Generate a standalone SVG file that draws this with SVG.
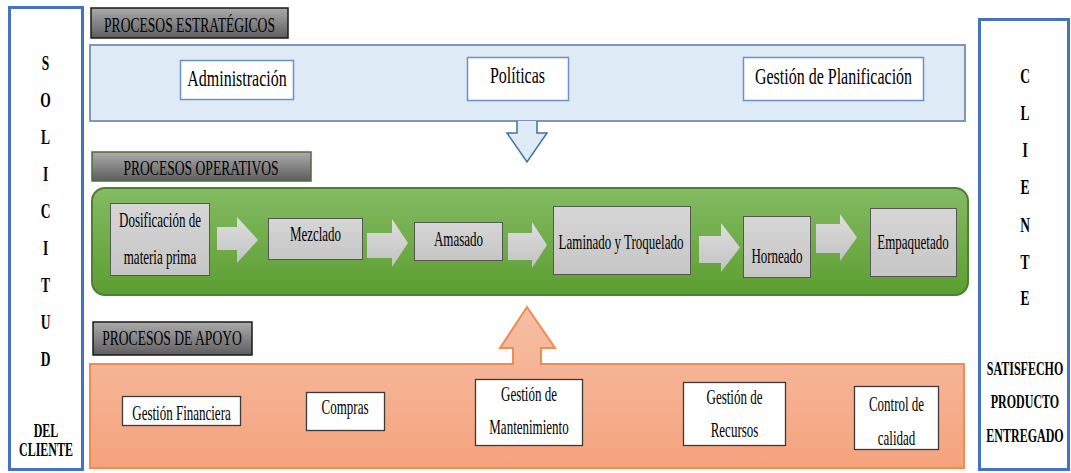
<svg xmlns="http://www.w3.org/2000/svg" width="1071" height="473" viewBox="0 0 1071 473">
  <defs>
    <linearGradient id="hdrGrad" x1="0" y1="0" x2="0" y2="1">
      <stop offset="0" stop-color="#ABABAB"/>
      <stop offset="1" stop-color="#5E5E5E"/>
    </linearGradient>
    <linearGradient id="greenGrad" x1="0" y1="0" x2="0" y2="1">
      <stop offset="0" stop-color="#84BB63"/>
      <stop offset="1" stop-color="#5C9E30"/>
    </linearGradient>
    <linearGradient id="orangeGrad" x1="0" y1="0" x2="0" y2="1">
      <stop offset="0" stop-color="#F5BFA5"/>
      <stop offset="1" stop-color="#F5A37D"/>
    </linearGradient>
    <linearGradient id="boxGrad" x1="0" y1="0" x2="0" y2="1">
      <stop offset="0" stop-color="#D6D6D6"/>
      <stop offset="1" stop-color="#C6C6C6"/>
    </linearGradient>
    <linearGradient id="arrowGrad" x1="0" y1="0" x2="0" y2="1">
      <stop offset="0" stop-color="#DEDEDE"/>
      <stop offset="1" stop-color="#C2C2C2"/>
    </linearGradient>
  </defs>
  <style>
    text { font-family: "Liberation Serif", "Times New Roman", serif; fill: #000; text-anchor: middle; }
    .side { fill: #FFFFFF; stroke: #4472C4; stroke-width: 3; }
    .hdr { fill: url(#hdrGrad); stroke: #1A1A1A; stroke-width: 1.5; }
    .hdr-g { fill: url(#hdrGrad); stroke: #4E6E37; stroke-width: 1.5; }
    .strat { fill: #FFFFFF; stroke: #6D8FD0; stroke-width: 1.5; }
    .proc { fill: url(#boxGrad); stroke: #555555; stroke-width: 1; }
    .flow { fill: url(#arrowGrad); stroke: none; }
    .sup { fill: #FFFFFF; stroke: #3A3A3A; stroke-width: 1.3; }
    .big { font-size: 16px; }
    .h { font-size: 13.6px; }
    .s { font-size: 13px; }
    .v { font-size: 13.5px; font-weight: bold; }
    .b { font-size: 12px; font-weight: bold; }
  </style>

  <!-- client request column -->
  <g id="solicitud">
    <rect class="side" x="9.5" y="7.5" width="73" height="462"/>
    <text class="v" transform="matrix(1 0 0 1.5 45.5 69.5)">S</text>
    <text class="v" transform="matrix(1 0 0 1.5 45.5 106.6)">O</text>
    <text class="v" transform="matrix(1 0 0 1.5 45.5 143.7)">L</text>
    <text class="v" transform="matrix(1 0 0 1.5 45.5 180.8)">I</text>
    <text class="v" transform="matrix(1 0 0 1.5 45.5 217.9)">C</text>
    <text class="v" transform="matrix(1 0 0 1.5 45.5 255)">I</text>
    <text class="v" transform="matrix(1 0 0 1.5 45.5 292.1)">T</text>
    <text class="v" transform="matrix(1 0 0 1.5 45.5 329.2)">U</text>
    <text class="v" transform="matrix(1 0 0 1.5 45.5 366.3)">D</text>
    <text class="b" transform="matrix(1 0 0 1.55 46 437)">DEL</text>
    <text class="b" transform="matrix(1 0 0 1.55 46 456)">CLIENTE</text>
  </g>

  <!-- satisfied client column -->
  <g id="cliente">
    <rect class="side" x="979.5" y="19.5" width="89" height="450"/>
    <text class="v" transform="matrix(1 0 0 1.5 1025 82.5)">C</text>
    <text class="v" transform="matrix(1 0 0 1.5 1025 119.8)">L</text>
    <text class="v" transform="matrix(1 0 0 1.5 1025 157.1)">I</text>
    <text class="v" transform="matrix(1 0 0 1.5 1025 194.4)">E</text>
    <text class="v" transform="matrix(1 0 0 1.5 1025 231.7)">N</text>
    <text class="v" transform="matrix(1 0 0 1.5 1025 269)">T</text>
    <text class="v" transform="matrix(1 0 0 1.5 1025 304.5)">E</text>
    <text class="b" transform="matrix(1 0 0 1.55 1025 375)">SATISFECHO</text>
    <text class="b" transform="matrix(1 0 0 1.55 1025 408)">PRODUCTO</text>
    <text class="b" transform="matrix(1 0 0 1.55 1025 441.5)">ENTREGADO</text>
  </g>

  <!-- strategic processes -->
  <g id="estrategicos">
    <rect x="90" y="45" width="875" height="76" fill="#DEEAF6" stroke="#7D97B7" stroke-width="2"/>
    <rect class="hdr" x="91" y="8" width="197" height="30"/>
    <text class="h" transform="matrix(1 0 0 1.55 189.5 31.5)">PROCESOS ESTRATÉGICOS</text>
  </g>
  <g id="administracion">
    <rect class="strat" x="180.5" y="60.5" width="113" height="39"/>
    <text class="big" transform="matrix(1 0 0 1.45 237 86)">Administración</text>
  </g>
  <g id="politicas">
    <rect class="strat" x="467.5" y="57.5" width="101" height="43"/>
    <text class="big" transform="matrix(1 0 0 1.45 517.5 83)">Políticas</text>
  </g>
  <g id="planificacion">
    <rect class="strat" x="743.5" y="57.5" width="180" height="43"/>
    <text class="big" transform="matrix(1 0 0 1.45 833.5 84)">Gestión de Planificación</text>
  </g>

  <!-- operative processes -->
  <g id="operativos">
    <rect x="92" y="188" width="876" height="107" rx="13" fill="url(#greenGrad)" stroke="#507E32" stroke-width="2"/>
    <rect class="hdr-g" x="92" y="152" width="219" height="29"/>
    <text class="h" transform="matrix(1 0 0 1.55 201 175)">PROCESOS OPERATIVOS</text>
  </g>
  <g id="dosificacion">
    <rect class="proc" x="110.5" y="203.5" width="99" height="72"/>
    <text class="s" transform="matrix(1 0 0 1.55 160 227)">Dosificación de</text>
    <text class="s" transform="matrix(1 0 0 1.55 160 264)">materia prima</text>
  </g>
  <g id="mezclado">
    <rect class="proc" x="268.5" y="218.5" width="94" height="41"/>
    <text class="s" transform="matrix(1 0 0 1.55 315.5 241)">Mezclado</text>
  </g>
  <g id="amasado">
    <rect class="proc" x="414.5" y="222.5" width="88" height="38"/>
    <text class="s" transform="matrix(1 0 0 1.55 458.5 246)">Amasado</text>
  </g>
  <g id="laminado">
    <rect class="proc" x="553.5" y="206.5" width="137" height="68"/>
    <text class="s" transform="matrix(1 0 0 1.55 621 248.5)">Laminado y Troquelado</text>
  </g>
  <g id="horneado">
    <rect class="proc" x="743.5" y="216.5" width="67" height="61"/>
    <text class="s" transform="matrix(1 0 0 1.55 777 263)">Horneado</text>
  </g>
  <g id="empaquetado">
    <rect class="proc" x="870.5" y="208.5" width="86" height="68"/>
    <text class="s" transform="matrix(1 0 0 1.55 913 248.5)">Empaquetado</text>
  </g>

  <!-- support processes -->
  <g id="apoyo">
    <path d="M90,364 H513 V348 H500 L527,307 L555,348 H541 V364 H964 V468 H90 Z" fill="url(#orangeGrad)" stroke="#F08C50" stroke-width="2"/>
    <rect class="hdr" x="93" y="322" width="159" height="33"/>
    <text class="h" transform="matrix(1 0 0 1.55 172 345)">PROCESOS DE APOYO</text>
  </g>
  <g id="financiera">
    <rect class="sup" x="122.5" y="396.5" width="118" height="29"/>
    <text class="s" transform="matrix(1 0 0 1.55 181.5 420)">Gestión Financiera</text>
  </g>
  <g id="compras">
    <rect class="sup" x="306.5" y="392.5" width="78" height="38"/>
    <text class="s" transform="matrix(1 0 0 1.55 345 414)">Compras</text>
  </g>
  <g id="mantenimiento">
    <rect class="sup" x="475.5" y="379.5" width="107" height="66"/>
    <text class="s" transform="matrix(1 0 0 1.55 529 401)">Gestión de</text>
    <text class="s" transform="matrix(1 0 0 1.55 529 434)">Mantenimiento</text>
  </g>
  <g id="recursos">
    <rect class="sup" x="683.5" y="382.5" width="102" height="63"/>
    <text class="s" transform="matrix(1 0 0 1.55 734.5 404)">Gestión de</text>
    <text class="s" transform="matrix(1 0 0 1.55 734.5 436.5)">Recursos</text>
  </g>
  <g id="calidad">
    <rect class="sup" x="854.5" y="386.5" width="84" height="63"/>
    <text class="s" transform="matrix(1 0 0 1.55 896.5 411)">Control de</text>
    <text class="s" transform="matrix(1 0 0 1.55 896.5 445)">calidad</text>
  </g>

  <!-- connectors -->
  <g id="connectors">
    <!-- strategy feeds operations -->
    <path d="M517,121 V133 H507 L527,162 L547,133 H537 V121" fill="#DEEAF6" stroke="#41719C" stroke-width="1.5"/>
    <!-- production flow -->
    <path class="flow" d="M217,227 H237 V217 L258,240 L237,263 V250 H217 Z"/>
    <path class="flow" d="M367,233 H392 V219 L408,243 L392,267 V258 H367 Z"/>
    <path class="flow" d="M508,233 H532 V222 L547,245 L532,268 V260 H508 Z"/>
    <path class="flow" d="M699,236 H721 V223 L740,247.5 L721,272 V263 H699 Z"/>
    <path class="flow" d="M816,224 H840 V214 L857,237.5 L840,261 V253 H816 Z"/>
  </g>
</svg>
